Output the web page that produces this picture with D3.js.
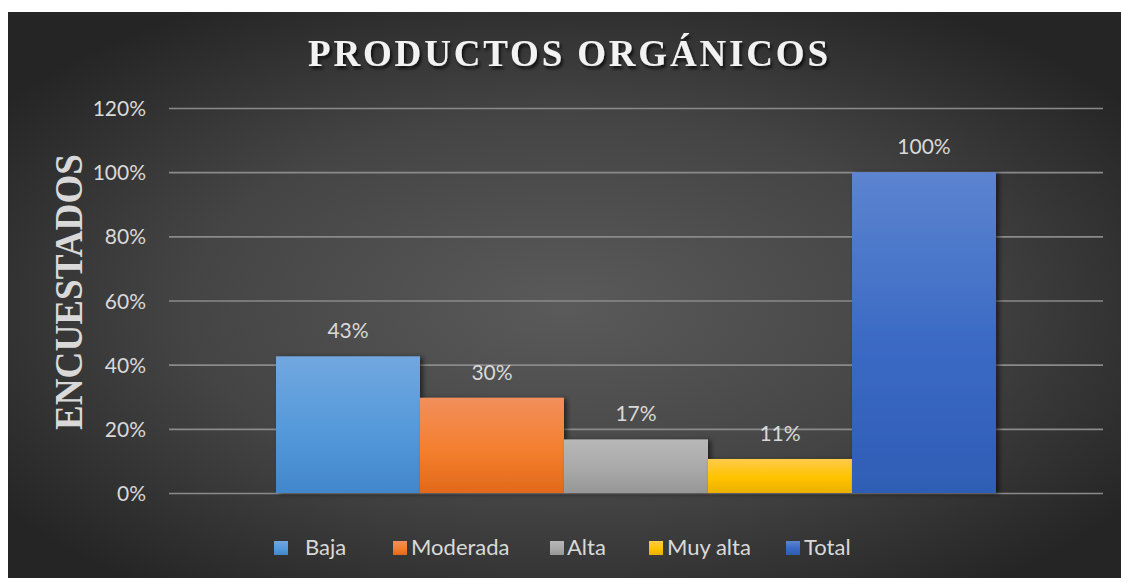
<!DOCTYPE html>
<html>
<head>
<meta charset="utf-8">
<script src="https://cdn.jsdelivr.net/npm/d3@7"></script>
<style>
  html, body { margin: 0; padding: 0; background: #ffffff; }
  svg { display: block; }
</style>
</head>
<body>
<svg id="chart" width="1121" height="578"></svg>
<script>
// chart data
const seriesNames = ['Baja', 'Moderada', 'Alta', 'Muy alta', 'Total'];
const seriesValues = [0.426, 0.297, 0.167, 0.106, 1.0];
const seriesColors = [
    ['#72a7e0', '#5499da', '#4287cb'],
    ['#f28f5c', '#f47f2e', '#e2681a'],
    ['#b8b8b8', '#a9a9a9', '#979797'],
    ['#ffcb4a', '#ffc300', '#e9b000'],
    ['#5c84d0', '#3a69c4', '#2f5db5']
];
const yTicks = [0, 0.2, 0.4, 0.6, 0.8, 1.0, 1.2];
const chartTitle = 'PRODUCTOS ORGÁNICOS';
const yTitle = 'ENCUESTADOS';

// layout
let width = 1121;
let height = 578;
let margL = 169;
let margR = 18;
let margT = 108;
let margB = 85;
let legendX = [274, 393, 550, 649, 786];
let legendTextX = [305, 411, 567, 667, 804];

let svg = d3.select('#chart');
let defs = svg.append('defs');

// background gradient
let bg = defs.append('radialGradient')
    .attr('id', 'bgGrad')
    .attr('cx', '50%').attr('cy', '52%').attr('r', '62%');
bg.append('stop').attr('offset', '0%').attr('stop-color', '#5a5a5a');
bg.append('stop').attr('offset', '55%').attr('stop-color', '#444444');
bg.append('stop').attr('offset', '100%').attr('stop-color', '#252525');

// bar gradients
seriesColors.forEach(function(c, i){
    let g = defs.append('linearGradient')
        .attr('id', 'barGrad' + i)
        .attr('x1', 0).attr('y1', 0).attr('x2', 0).attr('y2', 1);
    g.append('stop').attr('offset', '0%').attr('stop-color', c[0]);
    g.append('stop').attr('offset', '55%').attr('stop-color', c[1]);
    g.append('stop').attr('offset', '100%').attr('stop-color', c[2]);
});

// shadows
defs.append('filter').attr('id', 'barShadow')
    .attr('x', '-10%').attr('y', '-10%').attr('width', '130%').attr('height', '130%')
    .append('feDropShadow')
    .attr('dx', 3).attr('dy', 1).attr('stdDeviation', 2.5)
    .attr('flood-color', '#000').attr('flood-opacity', 0.55);
defs.append('filter').attr('id', 'textShadow')
    .attr('x', '-10%').attr('y', '-30%').attr('width', '130%').attr('height', '170%')
    .append('feDropShadow')
    .attr('dx', 2).attr('dy', 3).attr('stdDeviation', 1.8)
    .attr('flood-color', '#000').attr('flood-opacity', 0.7);

svg.append('rect')
    .attr('x', 8).attr('y', 12)
    .attr('width', width - 8).attr('height', height - 12)
    .attr('fill', 'url(#bgGrad)');

// scales
let xScale = d3.scaleBand()
    .domain(seriesNames)
    .range([margL, width - margR])
    .paddingInner(0)
    .paddingOuter(0.743);
let yScale = d3.scaleLinear()
    .domain([0, 1.2])
    .range([height - margB, margT]);

// grid + y axis
let yAxis = svg.append('g')
    .attr('transform', 'translate(' + margL + ',0)')
    .call(d3.axisLeft(yScale)
        .tickValues(yTicks)
        .tickSize(-(width - margR - margL))
        .tickPadding(23)
        .tickFormat(d3.format('.0%')));
yAxis.select('.domain').remove();
yAxis.selectAll('.tick line')
    .attr('stroke', '#8a8a8a')
    .attr('stroke-width', 1.6);
yAxis.selectAll('.tick text')
    .attr('fill', '#d9d9d9')
    .attr('font-family', 'Lato, "Open Sans", sans-serif')
    .attr('font-size', 21)
    .attr('dy', '0.36em');

// bars
let bars = svg.append('g').attr('class', 'barGrp');
bars.selectAll('rect')
    .data(seriesValues)
    .enter()
    .append('rect')
    .attr('x', function(d, i){ return xScale(seriesNames[i]); })
    .attr('y', function(d){ return yScale(d); })
    .attr('width', xScale.bandwidth())
    .attr('height', function(d){ return yScale(0) - yScale(d); })
    .attr('fill', function(d, i){ return 'url(#barGrad' + i + ')'; })
    .attr('filter', 'url(#barShadow)');

// data labels
svg.append('g').selectAll('text')
    .data(seriesValues)
    .enter()
    .append('text')
    .attr('x', function(d, i){ return xScale(seriesNames[i]) + xScale.bandwidth() / 2; })
    .attr('y', function(d){ return yScale(d) - 18; })
    .attr('text-anchor', 'middle')
    .attr('fill', '#d9d9d9')
    .attr('font-family', 'Lato, "Open Sans", sans-serif')
    .attr('font-size', 21)
    .text(function(d){ return d3.format('.0%')(d); });

// title
svg.append('text')
    .attr('x', 568)
    .attr('y', 66)
    .attr('text-anchor', 'middle')
    .attr('fill', '#f2f2f2')
    .attr('font-family', '"Liberation Serif", "DejaVu Serif", serif')
    .attr('font-weight', 'bold')
    .attr('font-size', 37)
    .attr('textLength', 520)
    .attr('lengthAdjust', 'spacing')
    .attr('filter', 'url(#textShadow)')
    .text(chartTitle);

// y axis title
svg.append('text')
    .attr('transform', 'translate(82,292) rotate(-90)')
    .attr('text-anchor', 'middle')
    .attr('fill', '#d9d9d9')
    .attr('font-family', '"Liberation Serif", "DejaVu Serif", serif')
    .attr('font-weight', 'bold')
    .attr('font-size', 40)
    .attr('textLength', 276)
    .attr('lengthAdjust', 'spacingAndGlyphs')
    .text(yTitle);

// legend
let legend = svg.append('g').attr('class', 'legendGrp');
legend.selectAll('rect')
    .data(seriesNames)
    .enter()
    .append('rect')
    .attr('x', function(d, i){ return legendX[i]; })
    .attr('y', 541)
    .attr('width', 14)
    .attr('height', 14)
    .attr('fill', function(d, i){ return 'url(#barGrad' + i + ')'; });
legend.selectAll('text')
    .data(seriesNames)
    .enter()
    .append('text')
    .attr('x', function(d, i){ return legendTextX[i]; })
    .attr('y', 555)
    .attr('fill', '#d9d9d9')
    .attr('font-family', 'Lato, "Open Sans", sans-serif')
    .attr('font-size', 22)
    .text(function(d){ return d; });
</script>
</body>
</html>
